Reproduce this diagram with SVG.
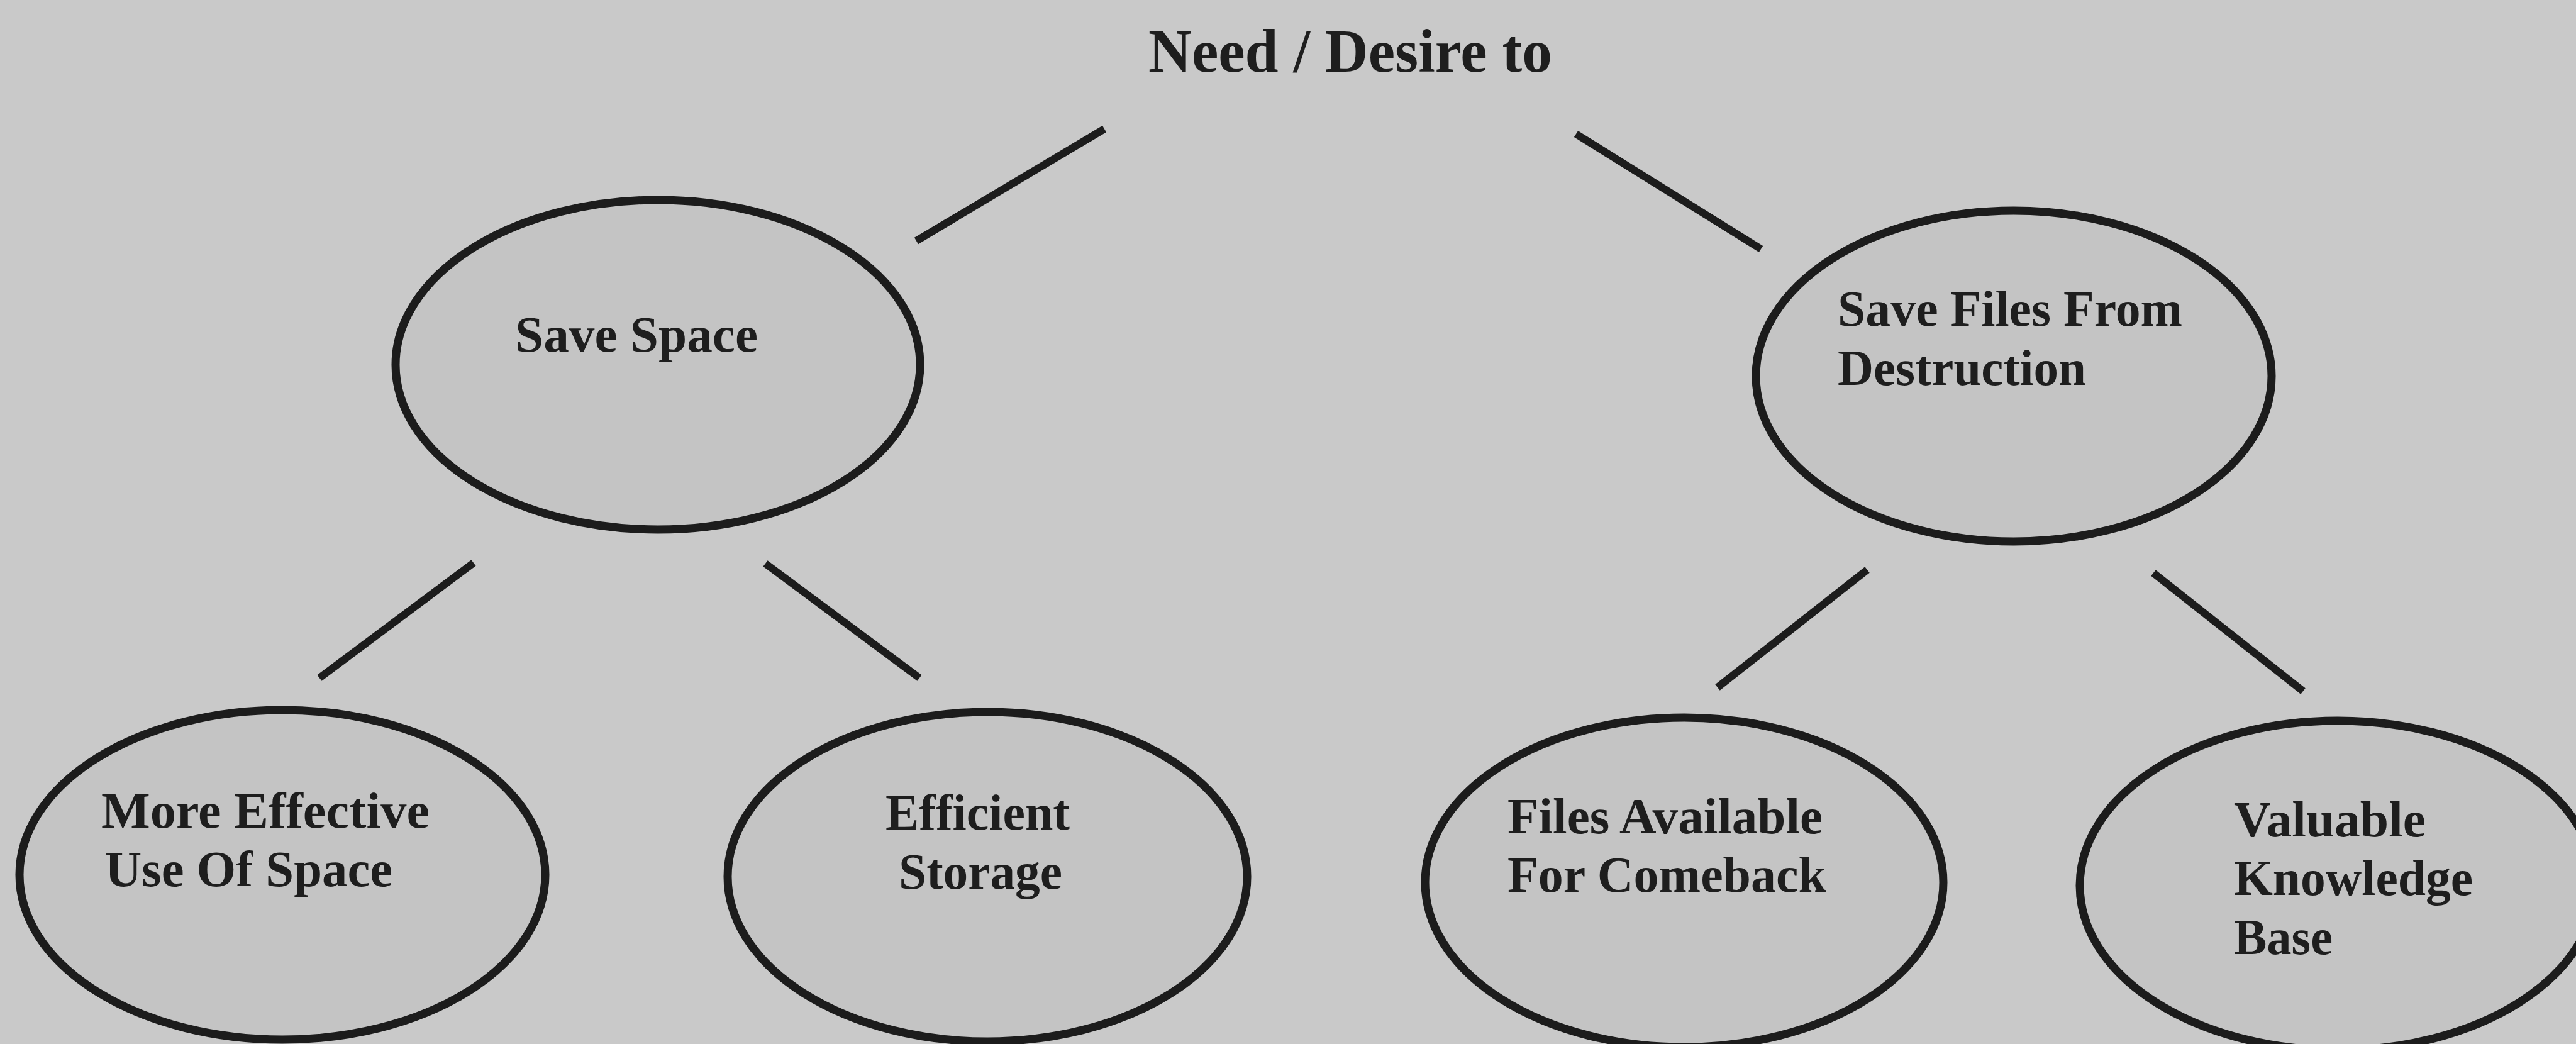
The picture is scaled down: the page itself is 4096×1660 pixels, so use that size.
<svg xmlns="http://www.w3.org/2000/svg" width="4096" height="1660" viewBox="0 0 4096 1660">
<style>
.bg{fill:#c9c9c9}
.node{fill:#c4c4c4;stroke:#1c1c1c;stroke-width:13}
.lbl{font-family:"Liberation Serif","Times New Roman",serif;font-weight:bold;font-size:80px;fill:#1e1e1e}
.title{font-size:97px}
.conn line{stroke:#1c1c1c;stroke-width:12;stroke-linecap:butt}
</style>
<rect class="bg" x="0" y="0" width="4096" height="1660"/>
<g id="title">
<text class="lbl title" x="1826" y="114" textLength="642" lengthAdjust="spacingAndGlyphs">Need / Desire to</text>
</g>
<g id="connectors" class="conn">
<line x1="1457" y1="383" x2="1756" y2="205"/>
<line x1="2506" y1="213" x2="2800" y2="396"/>
<line x1="753" y1="895" x2="508" y2="1078"/>
<line x1="1217" y1="896" x2="1462" y2="1078"/>
<line x1="2969" y1="906" x2="2731" y2="1093"/>
<line x1="3424" y1="911" x2="3662" y2="1099"/>
</g>
<g id="save-space">
<ellipse class="node" cx="1046" cy="580" rx="417" ry="262"/>
<text class="lbl" x="819" y="559" textLength="386" lengthAdjust="spacingAndGlyphs">Save Space</text>
</g>
<g id="save-files">
<ellipse class="node" cx="3202" cy="598" rx="410" ry="263"/>
<text class="lbl" x="2922" y="518" textLength="548" lengthAdjust="spacingAndGlyphs">Save Files From</text>
<text class="lbl" x="2922" y="612" textLength="395" lengthAdjust="spacingAndGlyphs">Destruction</text>
</g>
<g id="more-effective">
<ellipse class="node" cx="449" cy="1391" rx="418" ry="262"/>
<text class="lbl" x="161" y="1316" textLength="522" lengthAdjust="spacingAndGlyphs">More Effective</text>
<text class="lbl" x="167" y="1409" textLength="457" lengthAdjust="spacingAndGlyphs">Use Of Space</text>
</g>
<g id="efficient-storage">
<ellipse class="node" cx="1570" cy="1394" rx="413" ry="262"/>
<text class="lbl" x="1408" y="1319" textLength="293" lengthAdjust="spacingAndGlyphs">Efficient</text>
<text class="lbl" x="1429" y="1413" textLength="260" lengthAdjust="spacingAndGlyphs">Storage</text>
</g>
<g id="files-available">
<ellipse class="node" cx="2678" cy="1403" rx="412" ry="262"/>
<text class="lbl" x="2397" y="1325" textLength="501" lengthAdjust="spacingAndGlyphs">Files Available</text>
<text class="lbl" x="2397" y="1418" textLength="507" lengthAdjust="spacingAndGlyphs">For Comeback</text>
</g>
<g id="valuable-knowledge">
<ellipse class="node" cx="3717" cy="1408" rx="410" ry="262"/>
<text class="lbl" x="3552" y="1330" textLength="305" lengthAdjust="spacingAndGlyphs">Valuable</text>
<text class="lbl" x="3552" y="1423" textLength="380" lengthAdjust="spacingAndGlyphs">Knowledge</text>
<text class="lbl" x="3552" y="1517" textLength="157" lengthAdjust="spacingAndGlyphs">Base</text>
</g>
</svg>
